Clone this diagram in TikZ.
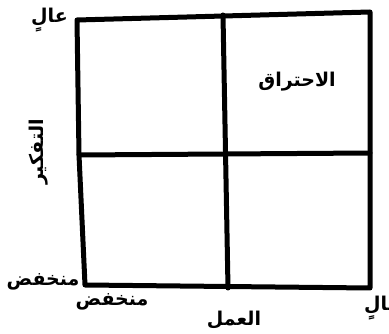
\documentclass[tikz,border=0pt]{standalone}
\usepackage{fontspec}
\usepackage{tikz}
\usetikzlibrary{calc, positioning}
\TeXXeTstate=1
\newfontfamily\arabicfont[Script=Arabic]{DejaVu Sans}

\tikzset{
    gridline/.style={black, line width=5pt, line cap=round, line join=round},
    lbl/.style={font=\arabicfont\bfseries\fontsize{19}{22}\selectfont, inner sep=0pt}
}

\begin{document}
\begin{tikzpicture}[x=1pt, y=-1pt]
    \useasboundingbox (0,0) rectangle (389,334);

    % 1. Các góc của lưới
    \coordinate (tl) at (77,20);
    \coordinate (tm) at (223,15);
    \coordinate (tr) at (370,12);
    \coordinate (ml) at (79,155);
    \coordinate (mr) at (370,153);
    \coordinate (bl) at (85,285);
    \coordinate (bm) at (228,288);
    \coordinate (br) at (370,288);

    % Khung ngoài và hai đường chia
    \draw[gridline] (tl) -- (tr) -- (br) -- (bl) -- (ml) -- cycle;
    \draw[gridline] (tm) -- (bm);
    \draw[gridline] (ml) -- (mr);

    % 2. Nhãn trục
    \node[lbl, anchor=east] (highy) at (68,20) {\beginR عالٍ\endR};
    \node[lbl, rotate=90] (yaxis) at (39,152) {\beginR التفكير\endR};
    \node[lbl] (lowy) at (43,282) {\beginR منخفض\endR};
    \node[lbl] (lowx) at (112,302) {\beginR منخفض\endR};
    \node[lbl] (xaxis) at (234,320) {\beginR العمل\endR};
    \node[lbl, anchor=west] (highx) at (364,308) {\beginR عالٍ\endR};

    % Nhãn ô
    \node[lbl] (burn) at (297,82) {\beginR الاحتراق\endR};
\end{tikzpicture}
\end{document}
